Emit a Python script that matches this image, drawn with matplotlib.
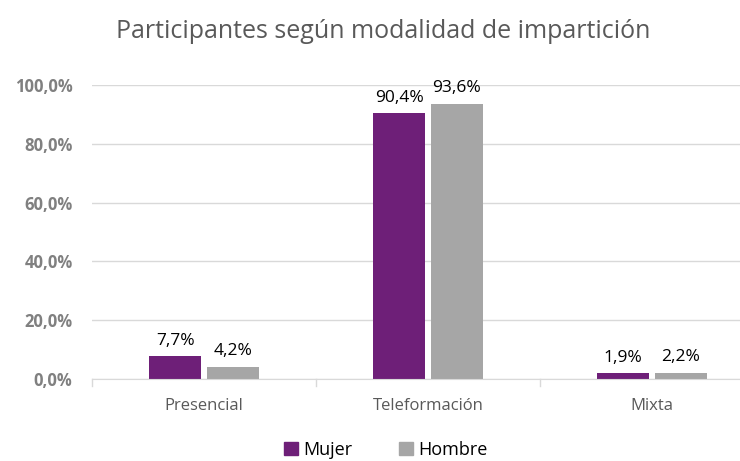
import matplotlib
matplotlib.use("Agg")
import matplotlib.pyplot as plt
import numpy as np
from matplotlib.patches import Patch

categories = ["Presencial", "Teleformación", "Mixta"]
mujer = [7.7, 90.4, 1.9]
hombre = [4.2, 93.6, 2.2]
series_names = ["Mujer", "Hombre"]
yticks = [0, 20, 40, 60, 80, 100]
ytick_labels = ["0,0%", "20,0%", "40,0%", "60,0%", "80,0%", "100,0%"]

plt.rcParams['font.family'] = ['Open Sans', 'DejaVu Sans']

c_m = "#6E1F78"
c_h = "#A6A6A6"

fig = plt.figure(figsize=(7.40, 4.61), dpi=100)
ax = fig.add_axes([92/740, 1-379/461, 672/740, (379-85)/461])

x = np.arange(len(categories))
w = 0.232
off = 0.129
b1 = ax.bar(x - off, mujer, w, color=c_m, zorder=3)
b2 = ax.bar(x + off, hombre, w, color=c_h, zorder=3)

def fmt(v):
    return f"{v:.1f}%".replace(".", ",")

for bars, vals in ((b1, mujer), (b2, hombre)):
    for r, v in zip(bars, vals):
        ax.text(r.get_x() + r.get_width()/2, v + 2.6, fmt(v), ha="center", va="bottom",
                fontsize=12.5, color="#000000", zorder=4)

ax.set_xlim(-0.5, 2.5)
ax.set_ylim(0, 100)
ax.set_yticks(yticks)
ax.set_yticklabels(ytick_labels, fontsize=12, fontweight="bold", color="#808080")
ax.set_xticks(x)
ax.set_xticklabels(categories, fontsize=12, color="#595959")
ax.tick_params(axis="x", length=0, pad=14)
ax.tick_params(axis="y", length=0, pad=14)
for t in ax.get_yticklabels():
    t.set_horizontalalignment("right")
ax.yaxis.grid(True, color="#D9D9D9", linewidth=1, zorder=0)
for s in ["top", "right", "left"]:
    ax.spines[s].set_visible(False)
ax.spines["bottom"].set_color("#D9D9D9")
ax.spines["bottom"].set_zorder(5)
# category separator ticks
for b in [-0.5, 0.5, 1.5, 2.5]:
    ax.plot([b, b], [0, -2.3], color="#D9D9D9", lw=1, clip_on=False, zorder=5)

fig.text(383/740, 1-31/461, "Participantes según modalidad de impartición", ha="center", va="center",
         fontsize=18, color="#595959")

handles = [Patch(color=c_m), Patch(color=c_h)]
fig.legend(handles, series_names, loc="center", bbox_to_anchor=(386/740, 1-450/461), ncol=2,
           frameon=False, fontsize=13, handlelength=0.75, handleheight=0.75, handletextpad=0.3,
           columnspacing=2.6)

fig.savefig("out.png", dpi=100)
